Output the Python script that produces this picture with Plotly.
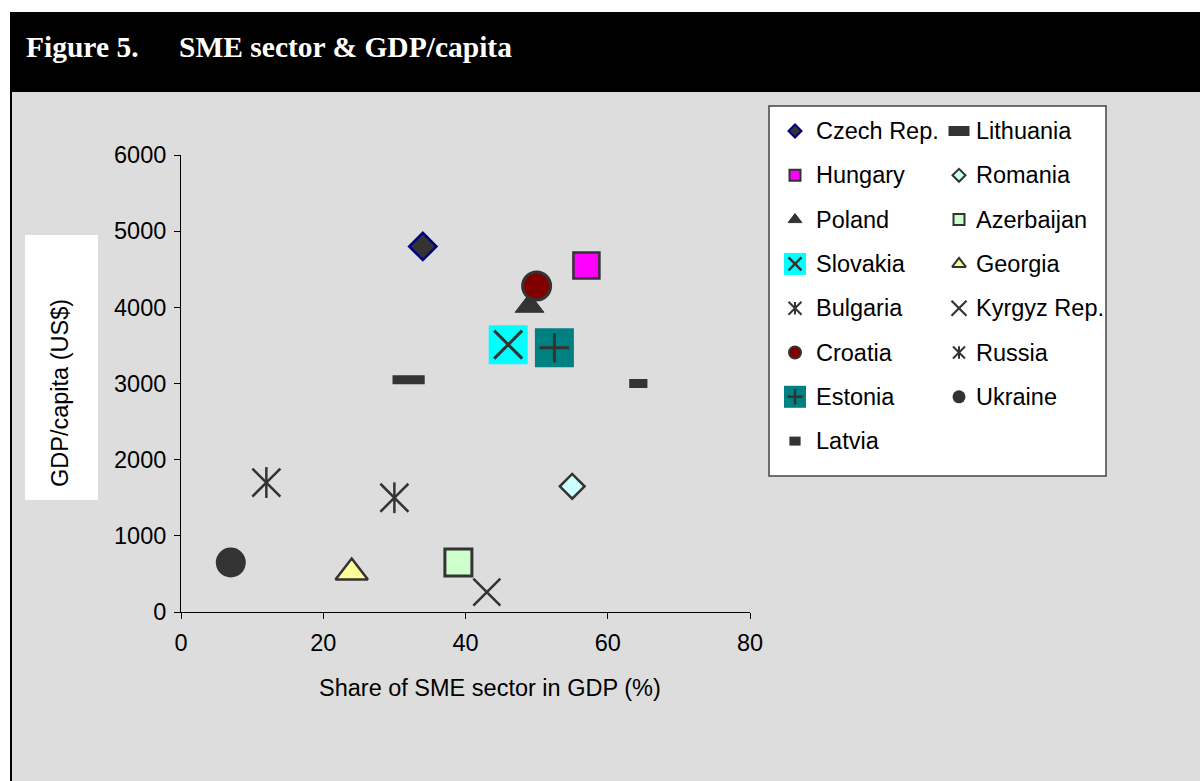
import plotly.graph_objects as go

# Figure size in pixels
W, H = 1200, 781

# ---- data -------------------------------------------------------------
countries = ["Czech Rep.", "Hungary", "Poland", "Slovakia", "Bulgaria", "Croatia",
             "Estonia", "Latvia", "Lithuania", "Romania", "Azerbaijan", "Georgia",
             "Kyrgyz Rep.", "Russia", "Ukraine"]
sme_share = [34, 57, 49, 46, 30, 50, 52.5, 64.3, 32, 55, 39, 24, 43, 12, 7]          # % of GDP
gdp_per_capita = [4800, 4550, 4070, 3510, 1500, 4280, 3470, 3000, 3050, 1650,
                  650, 570, 260, 1700, 650]                                          # US$

x_ticks = [0, 20, 40, 60, 80]
y_ticks = [0, 1000, 2000, 3000, 4000, 5000, 6000]

DARK = "#333333"


def mk(symbol, size, fill, line=DARK, lw=0, **extra):
    return dict(symbol=symbol, size=size, color=fill, line=dict(color=line, width=lw), **extra)


def tri(size, fill, lw, drop=0):
    # upward triangle, optionally nudged down so its bounding box sits centred on the point
    return mk("triangle-up", size, fill, DARK, lw, standoff=drop)


def star(x_size, v_size, lw):
    # six-armed star: a thin X with a vertical stroke through it
    return [mk("x-thin", x_size, DARK, DARK, lw), mk("line-ns", v_size, DARK, DARK, lw)]


# marker layers for each country: (plot markers, legend markers)
styles = {
    "Czech Rep.": ([mk("diamond", 21, DARK, "#000080", 2.5)],
                   [mk("diamond", 10, DARK, "#000080", 2)]),
    "Hungary": ([mk("square", 26, "#FF00FF", DARK, 2.5)],
                [mk("square", 11, "#FF00FF", DARK, 2)]),
    "Poland": ([tri(25, DARK, 1, drop=4)],
               [tri(12, DARK, 1)]),
    "Slovakia": ([mk("square", 39, "#00FFFF", "#00FFFF", 0), mk("x-thin", 28, DARK, DARK, 3)],
                 [mk("square", 22, "#00FFFF", "#00FFFF", 0), mk("x-thin", 13, DARK, DARK, 2.5)]),
    "Bulgaria": (star(28, 22, 2.5), star(13, 9, 2)),
    "Croatia": ([mk("circle", 28, "#800000", DARK, 3)],
                [mk("circle", 12, "#800000", DARK, 2)]),
    "Estonia": ([mk("square", 39, "#008080", "#008080", 0), mk("cross-thin", 21, DARK, DARK, 3)],
                [mk("square", 22, "#008080", "#008080", 0), mk("cross-thin", 11, DARK, DARK, 2.5)]),
    "Latvia": ([mk("line-ew", 13, DARK, DARK, 9)],
               [mk("line-ew", 8, DARK, DARK, 9)]),
    "Lithuania": ([mk("line-ew", 23, DARK, DARK, 9)],
                  [mk("line-ew", 15, DARK, DARK, 10)]),
    "Romania": ([mk("diamond", 19, "#CCFFFF", DARK, 2.5)],
                [mk("diamond", 10, "#CCFFFF", DARK, 2)]),
    "Azerbaijan": ([mk("square", 27, "#CCFFCC", DARK, 3)],
                   [mk("square", 11, "#CCFFCC", DARK, 2)]),
    "Georgia": ([tri(28, "#FFFF99", 2.5, drop=4)],
                [tri(12, "#FFFF99", 2)]),
    "Kyrgyz Rep.": ([mk("x-thin", 27, DARK, DARK, 2.5)],
                    [mk("x-thin", 15, DARK, DARK, 2.2)]),
    "Russia": (star(28, 22, 2.5), star(12, 9, 2)),
    "Ukraine": ([mk("circle", 30, DARK, DARK, 0)],
                [mk("circle", 13, DARK, DARK, 0)]),
}

# ---- layout geometry (pixels) -------------------------------------------
PLOT_L, PLOT_R, PLOT_T, PLOT_B = 181, 750, 155, 612
LEG_L, LEG_R, LEG_T, LEG_B = 769, 1106, 106, 476


def fx(px):
    return px / W


def fy(py):
    return 1 - py / H


fig = go.Figure()

# scatter points
for i, name in enumerate(countries):
    for m in styles[name][0]:
        fig.add_trace(go.Scatter(
            x=[sme_share[i]], y=[gdp_per_capita[i]], mode="markers", marker=m,
            name=name, showlegend=False, cliponaxis=False, hoverinfo="x+y+name"))

# two-column legend drawn on its own pixel-scaled axes
n_left = 8
row_gap = 44.3
col_marker_x = [795, 959]
col_text_x = [814, 974]
first_row_y = 131
FONT = dict(family="Liberation Sans, Arial, sans-serif", size=23.5, color="black")
annotations = []
for i, name in enumerate(countries):
    col = 0 if i < n_left else 1
    row = i if col == 0 else i - n_left
    yy = first_row_y + row * row_gap
    for m in styles[name][1]:
        fig.add_trace(go.Scatter(
            x=[col_marker_x[col]], y=[yy], mode="markers", marker=m,
            xaxis="x2", yaxis="y2", showlegend=False, hoverinfo="skip", cliponaxis=False))
    annotations.append(dict(
        x=col_text_x[col], y=yy, xref="x2", yref="y2", text=name, showarrow=False,
        xanchor="left", yanchor="middle", font=FONT))

TITLE_FONT = dict(family="Liberation Serif, Times New Roman, serif", size=29.5, color="white")

# titles
annotations += [
    dict(x=fx(24), y=fy(47), xref="paper", yref="paper", text="<b>Figure 5.</b>",
         showarrow=False, xanchor="left", yanchor="middle", font=TITLE_FONT),
    dict(x=fx(177), y=fy(47), xref="paper", yref="paper", text="<b>SME sector & GDP/capita</b>",
         showarrow=False, xanchor="left", yanchor="middle", font=TITLE_FONT),
    dict(x=fx(490), y=fy(688), xref="paper", yref="paper",
         text="Share of SME sector in GDP (%)", showarrow=False,
         xanchor="center", yanchor="middle", font=FONT),
    dict(x=fx(60), y=fy(393), xref="paper", yref="paper", text="GDP/capita (US$)",
         textangle=-90, showarrow=False, xanchor="center", yanchor="middle", font=FONT),
]

shapes = [
    # black frame / header band
    dict(type="rect", xref="paper", yref="paper", x0=fx(10), x1=fx(W), y0=fy(H), y1=fy(12),
         fillcolor="black", line=dict(width=0), layer="below"),
    # grey panel
    dict(type="rect", xref="paper", yref="paper", x0=fx(12), x1=fx(W), y0=fy(H), y1=fy(92),
         fillcolor="#DDDDDD", line=dict(width=0), layer="below"),
    # white box behind the y-axis title
    dict(type="rect", xref="paper", yref="paper", x0=fx(25), x1=fx(98), y0=fy(500), y1=fy(235),
         fillcolor="white", line=dict(width=0), layer="below"),
    # legend box
    dict(type="rect", xref="paper", yref="paper", x0=fx(LEG_L), x1=fx(LEG_R), y0=fy(LEG_B),
         y1=fy(LEG_T), fillcolor="white", line=dict(color="#444444", width=1.5), layer="below"),
]

axis_common = dict(showgrid=False, zeroline=False, showline=True, linecolor="black",
                   linewidth=1, ticks="outside", ticklen=6, tickcolor="black", tickwidth=1,
                   tickfont=FONT, fixedrange=True, automargin=False)

fig.update_layout(
    width=W, height=H,
    margin=dict(l=0, r=0, t=0, b=0, pad=0, autoexpand=False),
    paper_bgcolor="white",
    plot_bgcolor="rgba(0,0,0,0)",
    showlegend=False,
    xaxis=dict(domain=[fx(PLOT_L), fx(PLOT_R)], range=[0, 80], tickvals=x_ticks,
               ticklabelstandoff=4, anchor="y", **axis_common),
    yaxis=dict(domain=[fy(PLOT_B), fy(PLOT_T)], range=[0, 6000], tickvals=y_ticks,
               ticklabelstandoff=3, anchor="x", **axis_common),
    xaxis2=dict(domain=[fx(LEG_L), fx(LEG_R)], range=[LEG_L, LEG_R], visible=False,
                anchor="y2", fixedrange=True, automargin=False),
    yaxis2=dict(domain=[fy(LEG_B), fy(LEG_T)], range=[LEG_B, LEG_T], visible=False,
                anchor="x2", fixedrange=True, automargin=False),
    shapes=shapes,
    annotations=annotations,
)

fig.write_html("out.html")
